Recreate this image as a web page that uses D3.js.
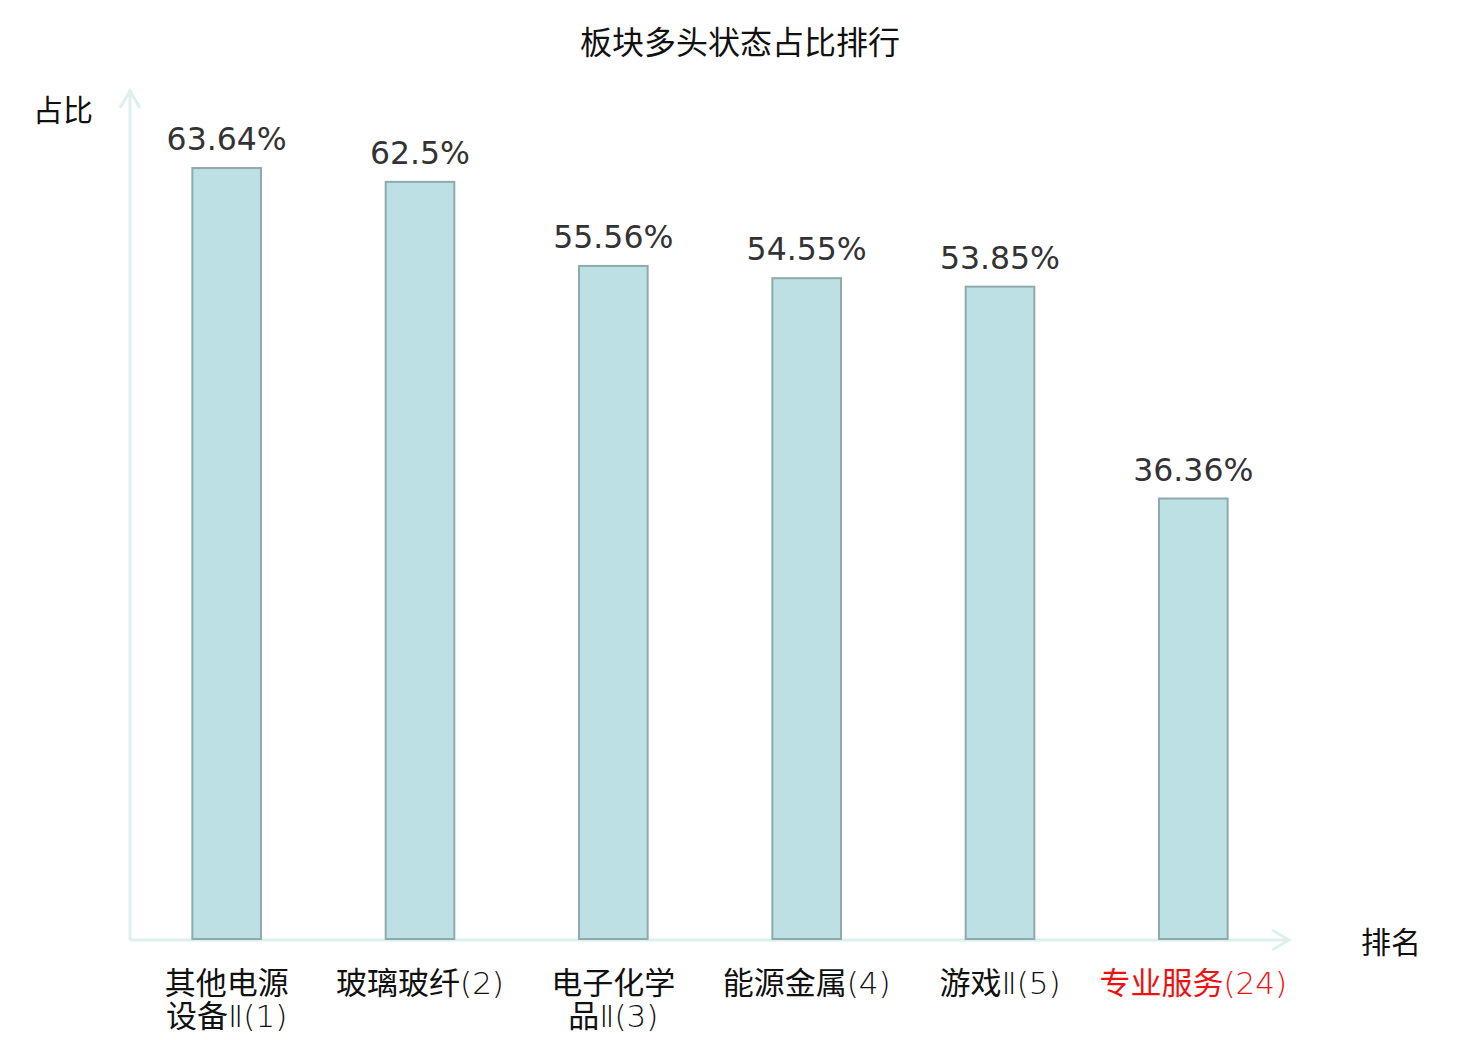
<!DOCTYPE html>
<html>
<head>
<meta charset="utf-8">
<script src="https://cdn.jsdelivr.net/npm/d3@7"></script>
<style>
  body { margin: 0; background: #fff; }
</style>
</head>
<body>
<div id="chart"></div>
<script>
// data
var categories = ["其他电源设备Ⅱ(1)", "玻璃玻纤(2)", "电子化学品Ⅱ(3)", "能源金属(4)", "游戏Ⅱ(5)", "专业服务(24)"]
var labelLines = [["其他电源", "设备Ⅱ(1)"], ["玻璃玻纤(2)"], ["电子化学", "品Ⅱ(3)"], ["能源金属(4)"], ["游戏Ⅱ(5)"], ["专业服务(24)"]]
var values = [63.64, 62.5, 55.56, 54.55, 53.85, 36.36]
var valueLabels = ["63.64%", "62.5%", "55.56%", "54.55%", "53.85%", "36.36%"]
var highlighted = ["专业服务(24)"]

var width = 1480, height = 1040
var x0 = 130, x1 = 1290, yBase = 939

var svg = d3.select("#chart")
  .append("svg")
  .attr("width", width)
  .attr("height", height)

// title
svg.append("text")
  .attr("x", 740)
  .attr("y", 54)
  .attr("text-anchor", "middle")
  .style("font-family", "Noto Sans CJK SC")
  .style("font-size", "32px")
  .style("fill", "#111")
  .text("板块多头状态占比排行")

var x = d3.scaleBand()
  .domain(categories)
  .range([x0, x1])
  .paddingInner(0.645)
  .paddingOuter(0.3225)

var y = d3.scaleLinear()
  .domain([0, 70])
  .range([yBase, 91])

// axes (plain lines with arrow heads)
var axisColor = "#dcf1ee"
svg.append("line")
  .attr("x1", x0).attr("y1", yBase + 1)
  .attr("x2", x0).attr("y2", 90)
  .style("stroke", axisColor).style("stroke-width", 3)
svg.append("path")
  .attr("d", "M" + (x0 - 10) + "," + 108 + " L" + x0 + "," + 91 + " L" + (x0 + 10) + "," + 108)
  .style("fill", "none").style("stroke", axisColor).style("stroke-width", 3)

svg.append("line")
  .attr("x1", x0).attr("y1", yBase + 1)
  .attr("x2", x1).attr("y2", yBase + 1)
  .style("stroke", axisColor).style("stroke-width", 3)
svg.append("path")
  .attr("d", "M" + (x1 - 18) + "," + (yBase - 9) + " L" + (x1 - 1) + "," + (yBase + 1) + " L" + (x1 - 18) + "," + (yBase + 11))
  .style("fill", "none").style("stroke", axisColor).style("stroke-width", 3)

// axis names
svg.append("text")
  .attr("x", 63).attr("y", 121)
  .attr("text-anchor", "middle")
  .style("font-family", "Noto Sans CJK SC")
  .style("font-size", "30px")
  .style("fill", "#111")
  .text("占比")

svg.append("text")
  .attr("x", 1391).attr("y", 953)
  .attr("text-anchor", "middle")
  .style("font-family", "Noto Sans CJK SC")
  .style("font-size", "30px")
  .style("fill", "#111")
  .text("排名")

// bars
svg.append("g")
  .selectAll("rect")
  .data(values)
  .enter()
  .append("rect")
  .attr("x", function(d, i) { return x(categories[i]) })
  .attr("y", function(d) { return y(d) })
  .attr("width", x.bandwidth())
  .attr("height", function(d) { return yBase - y(d) })
  .style("fill", "#bce0e3")
  .style("stroke", "#8eaaab")
  .style("stroke-width", 2)

// value labels
svg.append("g")
  .selectAll("text")
  .data(values)
  .enter()
  .append("text")
  .attr("x", function(d, i) { return x(categories[i]) + x.bandwidth() / 2 })
  .attr("y", function(d) { return y(d) - 18 })
  .attr("text-anchor", "middle")
  .style("font-family", "DejaVu Sans")
  .style("font-size", "31.5px")
  .style("fill", "#333")
  .text(function(d, i) { return valueLabels[i] })

// category labels, one text per line; chinese in regular, the rest in a light latin face
var cjk = /[\u4e00-\u9fff]/
categories.forEach(function(c, i) {
  var lines = svg.append("g")
    .selectAll("text")
    .data(labelLines[i])
    .enter()
    .append("text")
    .attr("x", x(c) + x.bandwidth() / 2)
    .attr("y", function(d, j) { return 994 + j * 33 })
    .attr("text-anchor", "middle")
    .style("font-size", "31px")
    .style("fill", highlighted.indexOf(c) >= 0 ? "#ee1111" : "#111")

  lines.selectAll("tspan")
    .data(function(d) { return d.match(/[\u4e00-\u9fff]+|[^\u4e00-\u9fff]+/g) })
    .enter()
    .append("tspan")
    .style("font-family", function(d) { return cjk.test(d) ? "'Noto Sans CJK SC'" : "'DejaVu Sans', 'Noto Sans CJK SC'" })
    .style("font-weight", function(d) { return cjk.test(d) ? 400 : 200 })
    .text(function(d) { return d })
})
</script>
</body>
</html>
